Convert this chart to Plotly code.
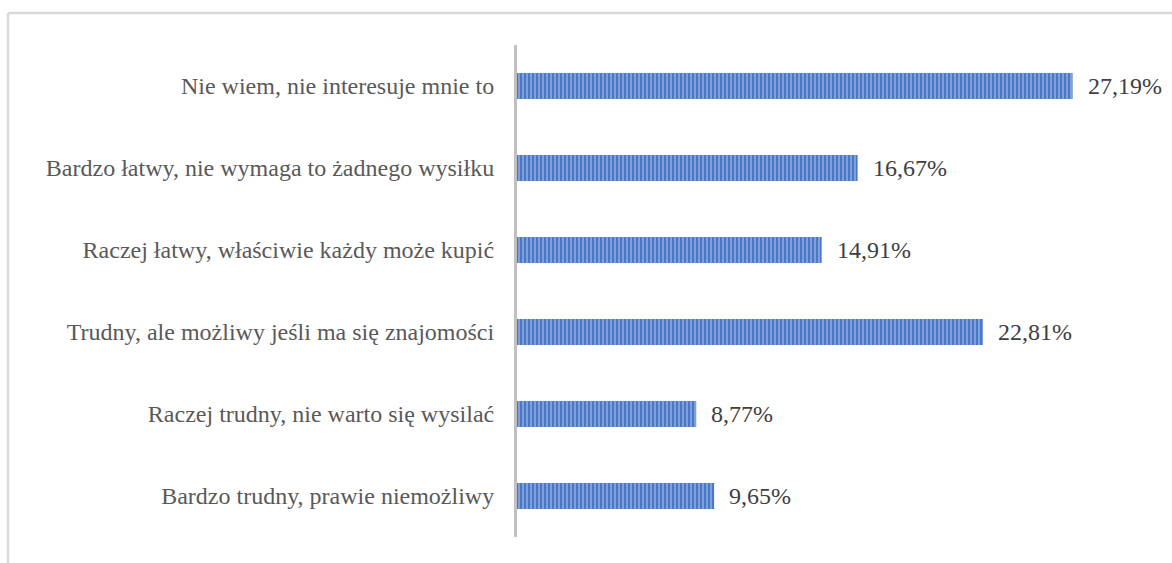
import plotly.graph_objects as go

categories = [
    "Nie wiem, nie interesuje mnie to",
    "Bardzo łatwy, nie wymaga to żadnego wysiłku",
    "Raczej łatwy, właściwie każdy może kupić",
    "Trudny, ale możliwy jeśli ma się znajomości",
    "Raczej trudny, nie warto się wysilać",
    "Bardzo trudny, prawie niemożliwy",
]
values = [27.19, 16.67, 14.91, 22.81, 8.77, 9.65]
labels = [f"{v:.2f}%".replace(".", ",") for v in values]

W, H = 1172, 563
ml, mr, mt, mb = 517, 42, 45, 26
x_max = 30.0
FONT = "Liberation Serif"

fig = go.Figure()
fig.add_trace(go.Bar(
    x=values,
    y=categories,
    orientation="h",
    width=0.32,
    marker=dict(
        color="#4472c4",
        line=dict(width=0),
        pattern=dict(shape="|", fgcolor="#b3c8ee", bgcolor="#4a78c8",
                     size=4, solidity=0.5, fillmode="overlay"),
    ),
    hoverinfo="skip",
))

for v, c, t in zip(values, categories, labels):
    fig.add_annotation(x=v, y=c, text=t, showarrow=False, xanchor="left",
                       xshift=13, font=dict(family=FONT, size=24, color="#404040"))

pw = W - ml - mr
ph = H - mt - mb
def px_x(p):
    return (p - ml) / pw
def px_y(p):
    return 1 - (p - mt) / ph

# outer frame edges (top and left)
fig.add_shape(type="line", xref="paper", yref="paper",
              x0=px_x(8), x1=px_x(W + 5), y0=px_y(13), y1=px_y(13),
              line=dict(color="#d9d9d9", width=2.5))
fig.add_shape(type="line", xref="paper", yref="paper",
              x0=px_x(8), x1=px_x(8), y0=px_y(13), y1=px_y(H + 5),
              line=dict(color="#d9d9d9", width=2.5))

fig.update_layout(
    width=W, height=H,
    margin=dict(l=ml, r=mr, t=mt, b=mb),
    paper_bgcolor="white", plot_bgcolor="white",
    showlegend=False,
    font=dict(family=FONT),
    xaxis=dict(range=[0, x_max], visible=False),
    yaxis=dict(
        categoryorder="array", categoryarray=categories[::-1],
        showline=True, linecolor="#c0c0c0", linewidth=3,
        showgrid=False, zeroline=False, ticks="", ticklabelstandoff=15,
        tickfont=dict(family=FONT, size=24, color="#595959"),
    ),
)

fig.write_html("out.html")
